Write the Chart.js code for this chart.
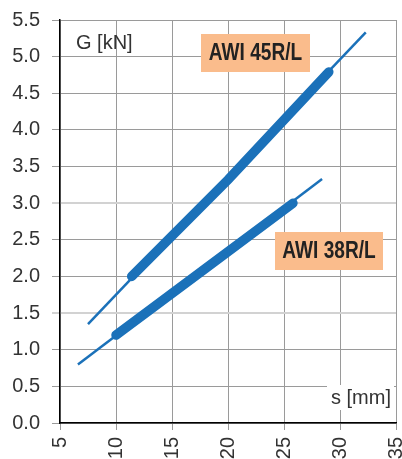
<!DOCTYPE html>
<html>
<head>
<meta charset="utf-8">
<script src="https://cdn.jsdelivr.net/npm/chart.js@4/dist/chart.umd.min.js"></script>
<style>
  body { margin: 0; background: #fff; }
  #wrap { width: 402px; height: 459px; }
</style>
</head>
<body>
<div id="wrap"><canvas id="line-chart"></canvas></div>
<script>
// s [mm] vs G [kN]
const s45Thin = [7.5, 32.3];
const g45Thin = [1.35, 5.33];
const s45 = [11.4, 20.0, 29.0];
const g45 = [2.0, 3.32, 4.79];

const s38Thin = [6.6, 28.4];
const g38Thin = [0.80, 3.33];
const s38 = [10.0, 18.0, 25.8];
const g38 = [1.2, 2.11, 3.0];

const blue = "#1b71b9";

function pts(xs, ys) {
  return xs.map((x, i) => ({x: x, y: ys[i]}));
}

Chart.defaults.font.family = "'Liberation Sans', Arial, sans-serif";

// narrow bold text: squeeze Liberation Sans horizontally
function narrowText(c, txt, cx, cy) {
  c.save();
  c.translate(cx, cy);
  c.scale(0.83, 1);
  c.fillText(txt, 0, 0);
  c.restore();
}

const labels = {
  id: "labels",
  afterDraw(chart) {
    const c = chart.ctx;
    c.save();
    c.textBaseline = "middle";
    c.textAlign = "left";
    c.fillStyle = "#333";
    c.font = "20px 'Liberation Sans'";
    c.fillText("G [kN]", 76, 43);

    c.fillStyle = "#fff";
    c.fillRect(327, 385, 67, 25);
    c.fillStyle = "#333";
    c.fillText("s [mm]", 331, 398);

    c.font = "bold 23px 'Liberation Sans'";
    c.fillStyle = "#fabc8c";
    c.fillRect(201, 34, 109, 38);
    c.fillRect(275, 232, 108, 38);
    c.fillStyle = "#222";
    c.textAlign = "center";
    narrowText(c, "AWI 45R/L", 255.5, 54);
    narrowText(c, "AWI 38R/L", 329, 252);
    c.restore();
  }
};

new Chart(document.getElementById("line-chart"), {
  type: "scatter",
  data: {
    datasets: [
      { data: pts(s45Thin, g45Thin), borderColor: blue, borderWidth: 2.5 },
      { data: pts(s38Thin, g38Thin), borderColor: blue, borderWidth: 2.5 },
      { data: pts(s45, g45), borderColor: blue, borderWidth: 9.5, borderCapStyle: "round" },
      { data: pts(s38, g38), borderColor: blue, borderWidth: 9.5, borderCapStyle: "round" }
    ]
  },
  options: {
    responsive: true,
    maintainAspectRatio: false,
    animation: false,
    showLine: true,
    elements: { point: { radius: 0 }, line: { tension: 0 } },
    layout: { padding: { top: 20, right: 6, left: 0, bottom: 0 } },
    plugins: { legend: { display: false }, tooltip: { enabled: false } },
    scales: {
      x: {
        min: 5, max: 35,
        afterFit(scale) { scale.height = 36; scale.paddingLeft = 0; scale.paddingRight = 0; },
        ticks: { stepSize: 5, maxRotation: 90, minRotation: 90, padding: 7, color: "#333", font: { size: 20 } },
        grid: { color: "#9a9a9a", lineWidth: 1, tickLength: 7 },
        border: { color: "#000", width: 1.5 }
      },
      y: {
        min: 0, max: 5.5,
        afterFit(scale) { scale.width = 60; scale.paddingTop = 0; scale.paddingBottom = 0; },
        ticks: { stepSize: 0.5, padding: 12, color: "#333", font: { size: 20 },
                 callback: v => v.toFixed(1) },
        grid: {
          tickLength: 8,
          color: ctx => (ctx.tick && (ctx.tick.value === 1.5 || ctx.tick.value === 3)) ? "#d2d2d2" : "#9a9a9a",
          lineWidth: ctx => (ctx.tick && (ctx.tick.value === 1.5 || ctx.tick.value === 3)) ? 2 : 1
        },
        border: { color: "#000", width: 1.5 }
      }
    }
  },
  plugins: [labels]
});
</script>
</body>
</html>
